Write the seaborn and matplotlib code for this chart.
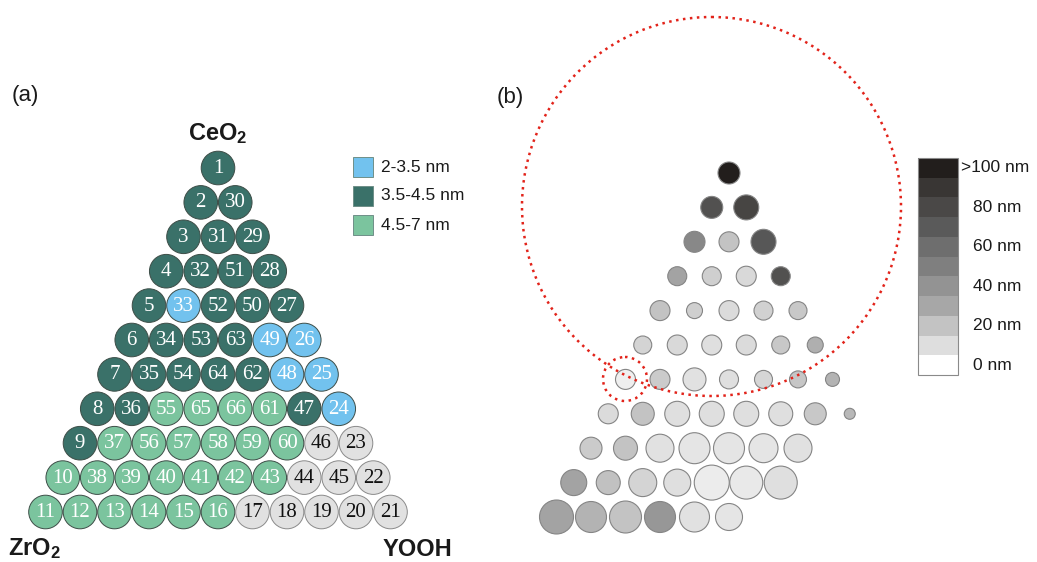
import numpy as np
import pandas as pd
import matplotlib
matplotlib.use("Agg")
import matplotlib.pyplot as plt
import seaborn as sns
from matplotlib.patches import Circle, Rectangle
from matplotlib.colors import LinearSegmentedColormap

# ---- data -------------------------------------------------------------
# Sample numbers across the composition triangle, apex (CeO2) down to the base (ZrO2 ... YOOH)
sample_rows = [
    [1],
    [2, 30],
    [3, 31, 29],
    [4, 32, 51, 28],
    [5, 33, 52, 50, 27],
    [6, 34, 53, 63, 49, 26],
    [7, 35, 54, 64, 62, 48, 25],
    [8, 36, 55, 65, 66, 61, 47, 24],
    [9, 37, 56, 57, 58, 59, 60, 46, 23],
    [10, 38, 39, 40, 41, 42, 43, 44, 45, 22],
    [11, 12, 13, 14, 15, 16, 17, 18, 19, 20, 21],
]
# Crystallite size class per sample: B = 2-3.5 nm, D = 3.5-4.5 nm, G = 4.5-7 nm, N = none
class_rows = [
    "D", "DD", "DDD", "DDDD", "DBDDD", "DDDDBB", "DDDDDBB",
    "DDGGGGDB", "DGGGGGGNN", "GGGGGGGNNN", "GGGGGGNNNNN",
]
class_names = {"B": "2-3.5 nm", "D": "3.5-4.5 nm", "G": "4.5-7 nm"}

# Panel (b): particle size (nm) and relative spot diameter of the measured samples
particle_nm_rows = [
    [100],
    [75, 82],
    [46, 20, 72],
    [32, 16, 12, 75],
    [20, 16, 11, 15, 18],
    [14, 12, 10, 11, 18, 27],
    [5, 17, 9, 10, 13, 19, 26],
    [11, 20, 10, 10, 10, 10, 18, 24],
    [17, 20, 9, 8, 8, 8, 9],
    [32, 21, 14, 10, 6, 7, 10],
    [32, 26, 20, 38, 9, 8],
]
spot_rows = [
    [22],
    [22, 25],
    [21, 20, 25],
    [19, 19, 20, 19],
    [20, 16, 20, 19, 18],
    [18, 20, 20, 20, 18, 16],
    [20, 20, 23, 19, 18, 17, 14],
    [20, 23, 25, 25, 25, 24, 22, 11],
    [22, 24, 28, 31, 31, 29, 28],
    [26, 24, 28, 27, 35, 33, 33],
    [34, 31, 32, 31, 30, 27],
]
colorbar_levels = [0, 10, 20, 30, 40, 50, 60, 70, 80, 90, 100]
colorbar_labels = {0: "0 nm", 20: "20 nm", 40: "40 nm", 60: "60 nm", 80: "80 nm", 100: ">100 nm"}

# ---- styling ----------------------------------------------------------
sns.set_style("white")
plt.rcParams["font.family"] = ["Liberation Sans", "DejaVu Sans"]
plt.rcParams["mathtext.fontset"] = "custom"
plt.rcParams["mathtext.rm"] = "Liberation Sans"
plt.rcParams["mathtext.bf"] = "Liberation Sans:bold"

class_colors = {"B": "#72c2ee", "D": "#3a7169", "G": "#7bc49e", "N": "#e1e1e1"}
grey_cmap = LinearSegmentedColormap.from_list(
    "greys_nm",
    ["#ffffff", "#dedede", "#c3c3c3", "#a7a7a7", "#939393", "#808080",
     "#6e6e6e", "#5b5b5b", "#4a4847", "#3a3735", "#221e1c"],
)

W, H = 1037, 562
fig = plt.figure(figsize=(W / 100, H / 100), dpi=100)
ax = fig.add_axes([0, 0, 1, 1])

# triangular grid layout (figure pixels)
pitch_x, pitch_y = 34.5, 34.4
apex_a = (218.0, 168.0)
apex_b = (729.0, 173.0)


def grid_xy(apex, r, k):
    return apex[0] + (k - r / 2) * pitch_x, apex[1] + r * pitch_y


px_to_pt = 72 / 100

# ---- panel (a) --------------------------------------------------------
recs = []
for r, (nums, cls) in enumerate(zip(sample_rows, class_rows)):
    for k, (n, c) in enumerate(zip(nums, cls)):
        x, y = grid_xy(apex_a, r, k)
        recs.append({"x": x, "y": y, "sample": n, "cls": c})
df_a = pd.DataFrame(recs)

edge_a = ["#8a8a8a" if c == "N" else "#3d4d47" for c in df_a["cls"]]
sns.scatterplot(
    data=df_a, x="x", y="y", hue="cls", palette=class_colors,
    s=(33.6 * px_to_pt) ** 2, edgecolor=edge_a, linewidth=0.7,
    legend=False, ax=ax, zorder=2,
)
for _, row in df_a.iterrows():
    ax.text(row["x"], row["y"] + 0.5, str(row["sample"]),
            ha="center", va="center", fontsize=15,
            family="Liberation Serif",
            color="#111111" if row["cls"] == "N" else "white", zorder=3)

# legend swatches
for i, key in enumerate(["B", "D", "G"]):
    yc = 167 + i * 29
    ax.add_patch(Rectangle((353, yc - 10), 20, 20, facecolor=class_colors[key],
                           edgecolor="#6f8f88", linewidth=0.7, zorder=3))
    ax.text(381, yc, class_names[key], ha="left", va="center",
            fontsize=12.5, color="#1a1a1a")

ax.text(218, 134, r"$\mathbf{CeO_2}$", ha="center", va="center", fontsize=17, color="#1a1a1a")
ax.text(8, 549, r"$\mathbf{ZrO_2}$", ha="left", va="center", fontsize=17, color="#1a1a1a")
ax.text(452, 550, "YOOH", ha="right", va="center", fontsize=17,
        fontweight="bold", color="#1a1a1a")
ax.text(12, 95, "(a)", ha="left", va="center", fontsize=16, color="#1a1a1a")

# ---- panel (b) --------------------------------------------------------
recs = []
for r, (vals, spots) in enumerate(zip(particle_nm_rows, spot_rows)):
    for k, (v, d) in enumerate(zip(vals, spots)):
        x, y = grid_xy(apex_b, r, k)
        recs.append({"x": x, "y": y, "nm": v, "spot": d})
df_b = pd.DataFrame(recs)

sns.scatterplot(
    data=df_b, x="x", y="y", hue="nm", palette=grey_cmap, hue_norm=(0, 100),
    s=(df_b["spot"].to_numpy() * px_to_pt) ** 2,
    edgecolor="#858585", linewidth=0.8, legend=False, ax=ax, zorder=2,
)

# highlighted regions (dotted red outlines)
for (cx, cy), rad in [((711.5, 206.5), 189.5), ((625, 379), 22)]:
    ax.add_patch(Circle((cx, cy), rad, fill=False, edgecolor="#e2231a",
                        linewidth=1.8, linestyle=(0, (1, 1.8)), zorder=4))

# stepped grey colour bar
cb_left, cb_right, cb_top, cb_bottom = 918, 958, 158, 375
ax.imshow(np.array(colorbar_levels[::-1], dtype=float).reshape(-1, 1),
          cmap=grey_cmap, vmin=0, vmax=100, interpolation="nearest",
          extent=(cb_left, cb_right, cb_bottom, cb_top), aspect="auto", zorder=2)
ax.add_patch(Rectangle((cb_left, cb_top), cb_right - cb_left, cb_bottom - cb_top,
                       fill=False, edgecolor="#8a8a8a", linewidth=0.8, zorder=3))
step = (cb_bottom - cb_top) / len(colorbar_levels)
for i, lvl in enumerate(colorbar_levels[::-1]):
    if lvl in colorbar_labels:
        yc = cb_top + (i + 0.5) * step
        xl = 961 if lvl == 100 else 973
        ax.text(xl, yc, colorbar_labels[lvl], ha="left", va="center",
                fontsize=12.5, color="#1a1a1a")

ax.text(497, 97, "(b)", ha="left", va="center", fontsize=16, color="#1a1a1a")

ax.set_xlim(0, W)
ax.set_ylim(H, 0)
ax.set_aspect("auto")
ax.axis("off")

fig.savefig("out.png", dpi=100)
